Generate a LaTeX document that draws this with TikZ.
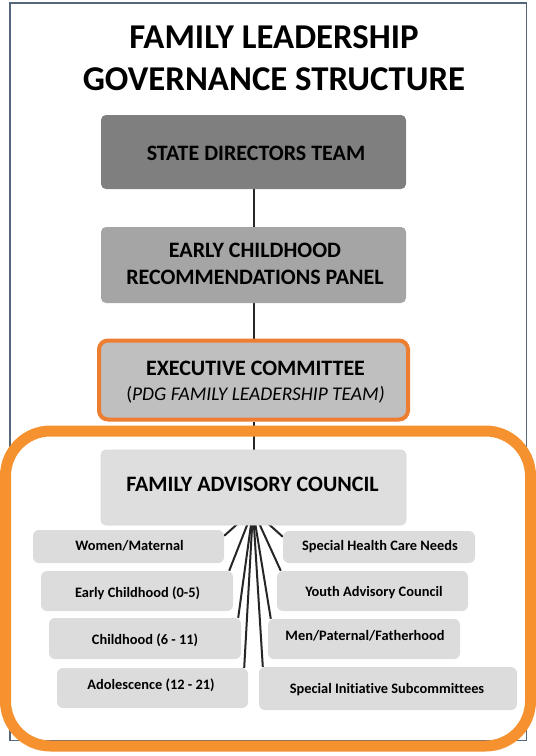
\documentclass[tikz,border=0pt]{standalone}
\usepackage{fontspec}
\setmainfont{Carlito}[Ligatures=NoCommon]
\usetikzlibrary{backgrounds}
\definecolor{sdtgray}{HTML}{7F7F7F}
\definecolor{ecrpgray}{HTML}{A5A5A5}
\definecolor{execgray}{HTML}{BFBFBF}
\definecolor{facgray}{HTML}{DEDEDE}
\definecolor{subgray}{HTML}{DCDCDC}
\definecolor{execorange}{HTML}{ED7D31}
\definecolor{frameorange}{HTML}{F5922F}
\definecolor{framegray}{HTML}{55677A}
\definecolor{linegray}{HTML}{262626}
\tikzset{
  box/.style={rectangle, rounded corners=5pt, inner sep=0pt, draw=none},
  subbox/.style={box, fill=subgray, rounded corners=6pt},
  bigtext/.style={anchor=base, inner sep=0pt, font=\bfseries\fontsize{22}{26}\selectfont},
  subtext/.style={anchor=base, inner sep=0pt, font=\bfseries\fontsize{14.4}{17}\selectfont},
  conn/.style={draw=linegray, line width=2pt},
}
\begin{document}
\begin{tikzpicture}[x=1pt,y=-1pt]
\useasboundingbox (0,0) rectangle (536,756);
% outer frame
\draw[framegray, line width=1.5pt] (10,3) rectangle (526.5,740.5);
% title
\node[anchor=base, inner sep=0pt, font=\bfseries\fontsize{34.8}{40}\selectfont] (t1) at (274,48) {FAMILY LEADERSHIP};
\node[anchor=base, inner sep=0pt, font=\bfseries\fontsize{34.8}{40}\selectfont] (t2) at (274,90.6) {GOVERNANCE STRUCTURE};
% orange frame
\draw[frameorange, line width=11pt, rounded corners=45pt] (5.5,431) rectangle (530.5,746);
% main boxes
\node[box, fill=sdtgray, minimum width=305pt, minimum height=74pt] (sdt) at (253.5,152) {};
\node[bigtext] (sdtt) at (256,160.7) {STATE DIRECTORS TEAM};
\node[box, fill=ecrpgray, minimum width=305pt, minimum height=76pt] (ecrp) at (253.5,265) {};
\node[bigtext] (ecrpt1) at (255,257.4) {EARLY CHILDHOOD};
\node[bigtext] (ecrpt2) at (255,284.8) {RECOMMENDATIONS PANEL};
\node[box, fill=execgray, draw=execorange, line width=4pt, rounded corners=9pt, minimum width=309pt, minimum height=79pt] (exec) at (253.5,380) {};
\node[bigtext] (exect1) at (255.5,375) {EXECUTIVE COMMITTEE};
\node[anchor=base, inner sep=0pt, font=\fontsize{19.4}{23}\selectfont] (exect2) at (255.5,400) {(\textit{PDG FAMILY LEADERSHIP TEAM)}};
\node[box, fill=facgray, draw=black!15, line width=0.8pt, minimum width=305pt, minimum height=75pt] (fac) at (253.5,487.5) {};
\node[bigtext] (fact) at (252.5,491) {FAMILY ADVISORY COUNCIL};
% sub boxes
\node[subbox, minimum width=191pt, minimum height=33pt] (wm) at (128.5,546.5) {};
\node[subtext] (wmt) at (129.6,550) {Women/Maternal};
\node[subbox, minimum width=192pt, minimum height=40pt] (ec) at (137,591) {};
\node[subtext] (ect) at (137.6,597) {Early Childhood (0-5)};
\node[subbox, minimum width=192pt, minimum height=41pt] (ch) at (145,638.5) {};
\node[subtext] (cht) at (145,644) {Childhood (6 - 11)};
\node[subbox, minimum width=191pt, minimum height=40pt] (ado) at (152.5,688) {};
\node[subtext] (adot) at (151,689.3) {Adolescence (12 - 21)};
\node[subbox, minimum width=192pt, minimum height=32pt] (shcn) at (379,547) {};
\node[subtext] (shcnt) at (380,550) {Special Health Care Needs};
\node[subbox, minimum width=191pt, minimum height=40pt] (yac) at (372.5,591) {};
\node[subtext] (yact) at (374,596.7) {Youth Advisory Council};
\node[subbox, minimum width=192pt, minimum height=40pt] (men) at (364,639) {};
\node[subtext] (ment) at (365,640) {Men/Paternal/Fatherhood};
\node[subbox, minimum width=258pt, minimum height=43pt] (sis) at (388,688.5) {};
\node[subtext] (sist) at (387,693.3) {Special Initiative Subcommittees};
% connectors
\coordinate (hub) at (253,510);
\begin{pgfonlayer}{background}
\draw[conn] (sdt) -- (ecrp);
\draw[conn] (ecrp) -- (exec);
\draw[conn] (exec) -- (fac);
\draw[conn] (hub) -- ([yshift=-6pt]wm.north east);
\draw[conn] (hub) -- ([yshift=-6pt]shcn.north west);
\draw[conn] (hub) -- ([xshift=-4pt]ec.north east);
\draw[conn] (hub) -- ([xshift=4pt]yac.north west);
\draw[conn] (hub) -- ([xshift=-3pt]ch.north east);
\draw[conn] (hub) -- ([xshift=3pt]men.north west);
\draw[conn] (hub) -- ([xshift=-4pt]ado.north east);
\draw[conn] (hub) -- ([xshift=4pt]sis.north west);
\end{pgfonlayer}
\end{tikzpicture}
\end{document}
